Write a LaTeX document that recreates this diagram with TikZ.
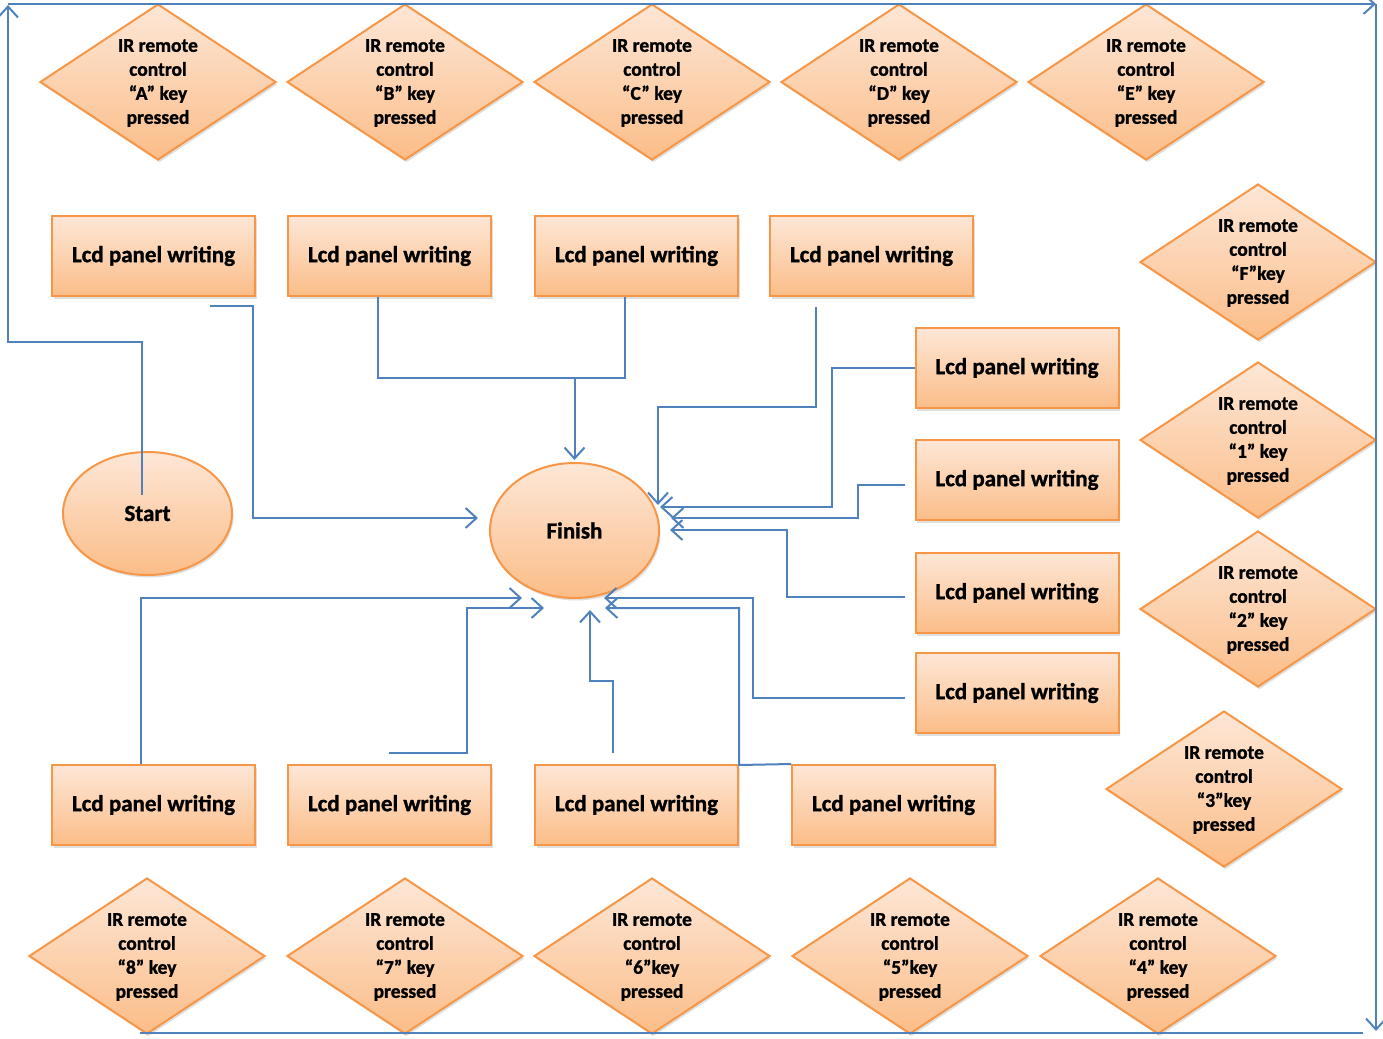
\documentclass[tikz,border=0pt]{standalone}
\usepackage{fontspec}
\setmainfont{Carlito}[BoldFeatures={FakeBold=1.2}]
\usetikzlibrary{shapes.geometric,shadows,arrows.meta,calc}
\definecolor{obord}{HTML}{F79646}
\definecolor{otop}{HTML}{FDE7D7}
\definecolor{obot}{HTML}{FBBD88}
\definecolor{lblue}{HTML}{4F81BD}
\begin{document}
\begin{tikzpicture}[x=1pt,y=-1pt,
 shadebox/.style={draw=obord, line width=2pt, top color=otop, bottom color=obot,
   drop shadow={shadow xshift=1.5pt,shadow yshift=-2.5pt,opacity=0.25}},
 lcd/.style={shadebox, rectangle, minimum width=203pt, minimum height=80pt, inner sep=0pt,
   font=\fontsize{23}{27}\selectfont\bfseries},
 dia/.style={shadebox, diamond, minimum width=236pt, minimum height=156pt, inner sep=0pt},
 dtxt/.style={align=center, font=\fontsize{19.5}{24}\selectfont\bfseries, inner sep=0pt},
 oval/.style={shadebox, ellipse, minimum width=169pt, inner sep=0pt,
   font=\fontsize{23}{27}\selectfont\bfseries},
 conn/.style={draw=lblue, line width=2pt},
 arr/.style={conn, -{Straight Barb[length=11pt,width=20pt]}}]
\useasboundingbox (0,0) rectangle (1383,1038);

% diamonds
\foreach \n/\x/\y/\k in {dA/158/82/“A” key, dB/405/82/“B” key, dC/652/82/“C” key, dD/899/82/“D” key, dE/1146/82/“E” key,
  dF/1258/262/“F”key, d1/1258/440/“1” key, d2/1258/609/“2” key, d3/1224/789/“3”key,
  d8/147/956/“8” key, d7/405/956/“7” key, d6/652/956/“6”key, d5/910/956/“5”key, d4/1158/956/“4” key}{
  \node[dia] (\n) at (\x,\y) {};
  \node[dtxt] (\n t) at ([yshift=-1pt]\n.center) {IR remote\\control\\\k\\pressed};
}

% boxes
\foreach \n/\x/\y in {t1/153.5/256, t2/389.5/256, t3/636.5/256, t4/871.5/256,
  r1/1017/368, r2/1017/480, r3/1017/593, r4/1017/693,
  b1/153.5/805, b2/389.5/805, b3/636.5/805, b4/893.5/805}{
  \node[lcd] (\n) at (\x,\y) {Lcd panel writing};
}

\node[oval, minimum height=123pt] (start) at (147.5,513.5) {Start};
\node[oval, minimum height=135pt] (finish) at (574.5,530.5) {Finish};

% connectors
\coordinate (s1) at (210,306); \coordinate (e1) at (478,518);
\draw[arr] (s1) -- (253,306) -- (253,518) -- (e1);

\coordinate (m23) at (574.5,378);
\draw[conn] ([xshift=-11.5pt]t2.south) |- (m23) -| ([xshift=-11.5pt]t3.south);
\draw[arr] (m23) -- ([yshift=2pt]finish.north);

\coordinate (s4) at (816,307); \coordinate (e4) at (658,505);
\draw[arr] (s4) -- (816,407) -- (658,407) -- (e4);

\coordinate (e5) at (660,507);
\draw[arr] (r1.west) -- (832,368) -- (832,507) -- (e5);

\coordinate (s6) at (905,485); \coordinate (e6) at (671,518);
\draw[arr] (s6) -- (858,485) -- (858,518) -- (e6);

\coordinate (s7) at (905,597); \coordinate (e7) at (670,530);
\draw[arr] (s7) -- (787,597) -- (787,530) -- (e7);

\coordinate (s8) at (905,698); \coordinate (e8) at (604,598);
\draw[arr] (s8) -- (753,698) -- (753,598) -- (e8);

\coordinate (e9) at (605,608);
\draw[arr] (b4.north west) -- (739,765) -- (739,608) -- (e9);

\coordinate (s10) at (613,753); \coordinate (e10) at (590,610);
\draw[arr] (s10) -- (613,681) -- (590,681) -- (e10);

\coordinate (s11) at (389,753); \coordinate (e11) at (544,608);
\draw[arr] (s11) -- (467,753) -- (467,608) -- (e11);

\coordinate (e12) at (522,598);
\draw[arr] ([xshift=-12.5pt]b1.north) -- (141,598) -- (e12);

% outer loop from Start
\coordinate (sl) at (142,495);
\coordinate (tl) at (8,5);
\coordinate (tr) at (1376,4);
\coordinate (br) at (1376,1031);
\coordinate (bb1) at (1363,1033);
\coordinate (bb2) at (140,1033);
\draw[arr] (sl) -- (142,342) -- (8,342) -- (tl);
\draw[arr] ([yshift=1pt]tl) -- (tr);
\draw[arr] (tr) -- (br);
\draw[conn] (bb1) -- (bb2);
\end{tikzpicture}
\end{document}
